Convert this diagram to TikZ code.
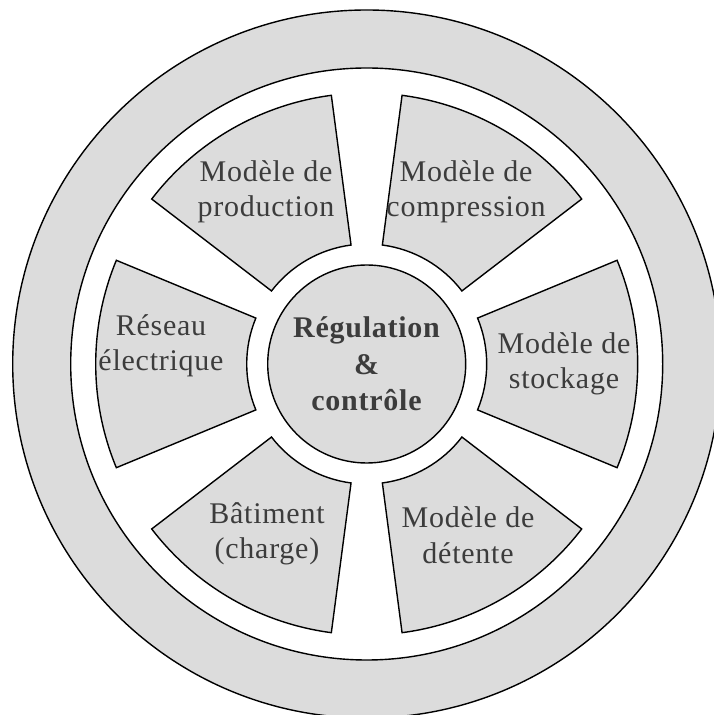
\documentclass[tikz,border=0pt]{standalone}
\usepackage{fontspec}
\setmainfont{Liberation Serif}[LetterSpace=2.5]
\usetikzlibrary{calc}
\definecolor{fillgray}{HTML}{DCDCDC}
\definecolor{txtgray}{HTML}{3C3C3C}
\tikzset{
  ring/.style={draw=black,line width=1.4pt},
  secshape/.style={draw=black,line width=1.4pt,fill=fillgray},
  lbl/.style={align=center,text=txtgray,font=\fontsize{30}{35.5}\selectfont,inner sep=0pt},
  cbl/.style={align=center,text=txtgray,font=\fontsize{30}{36.5}\selectfont\bfseries,inner sep=0pt}
}
\begin{document}
\begin{tikzpicture}[x=1pt,y=1pt]
\useasboundingbox (0,0) rectangle (713,715);
\coordinate (C) at (366.7,351);
\fill[white] (0,0) rectangle (713,715);
\draw[ring,fill=fillgray] (C) circle[radius=354];
\draw[ring,fill=white] (C) circle[radius=296];
\foreach \a in {0,60,120,180,240,300}{
  \pgfmathsetmacro{\aa}{\a-22.5}
  \pgfmathsetmacro{\ab}{\a+22.5}
  \draw[secshape] ($(C)+(\aa:120)$) -- ($(C)+(\aa:271)$)
     arc[start angle=\aa,end angle=\ab,radius=271]
     -- ($(C)+(\ab:120)$)
     arc[start angle=\ab,end angle=\aa,radius=120] -- cycle;
}
\draw[secshape] (C) circle[radius=99];
\node[cbl] (ctr) at (366.5,351) {Régulation\\\&\\contrôle};
\node[lbl] (prod) at (266,523) {Modèle de\\production};
\node[lbl] (comp) at (466,523) {Modèle de\\compression};
\node[lbl] (res) at (161,369) {Réseau\\électrique};
\node[lbl] (stock) at (564,351) {Modèle de\\stockage};
\node[lbl] (bat) at (267,181) {Bâtiment\\(charge)};
\node[lbl] (det) at (468,180) {Modèle de\\détente};
\end{tikzpicture}
\end{document}
